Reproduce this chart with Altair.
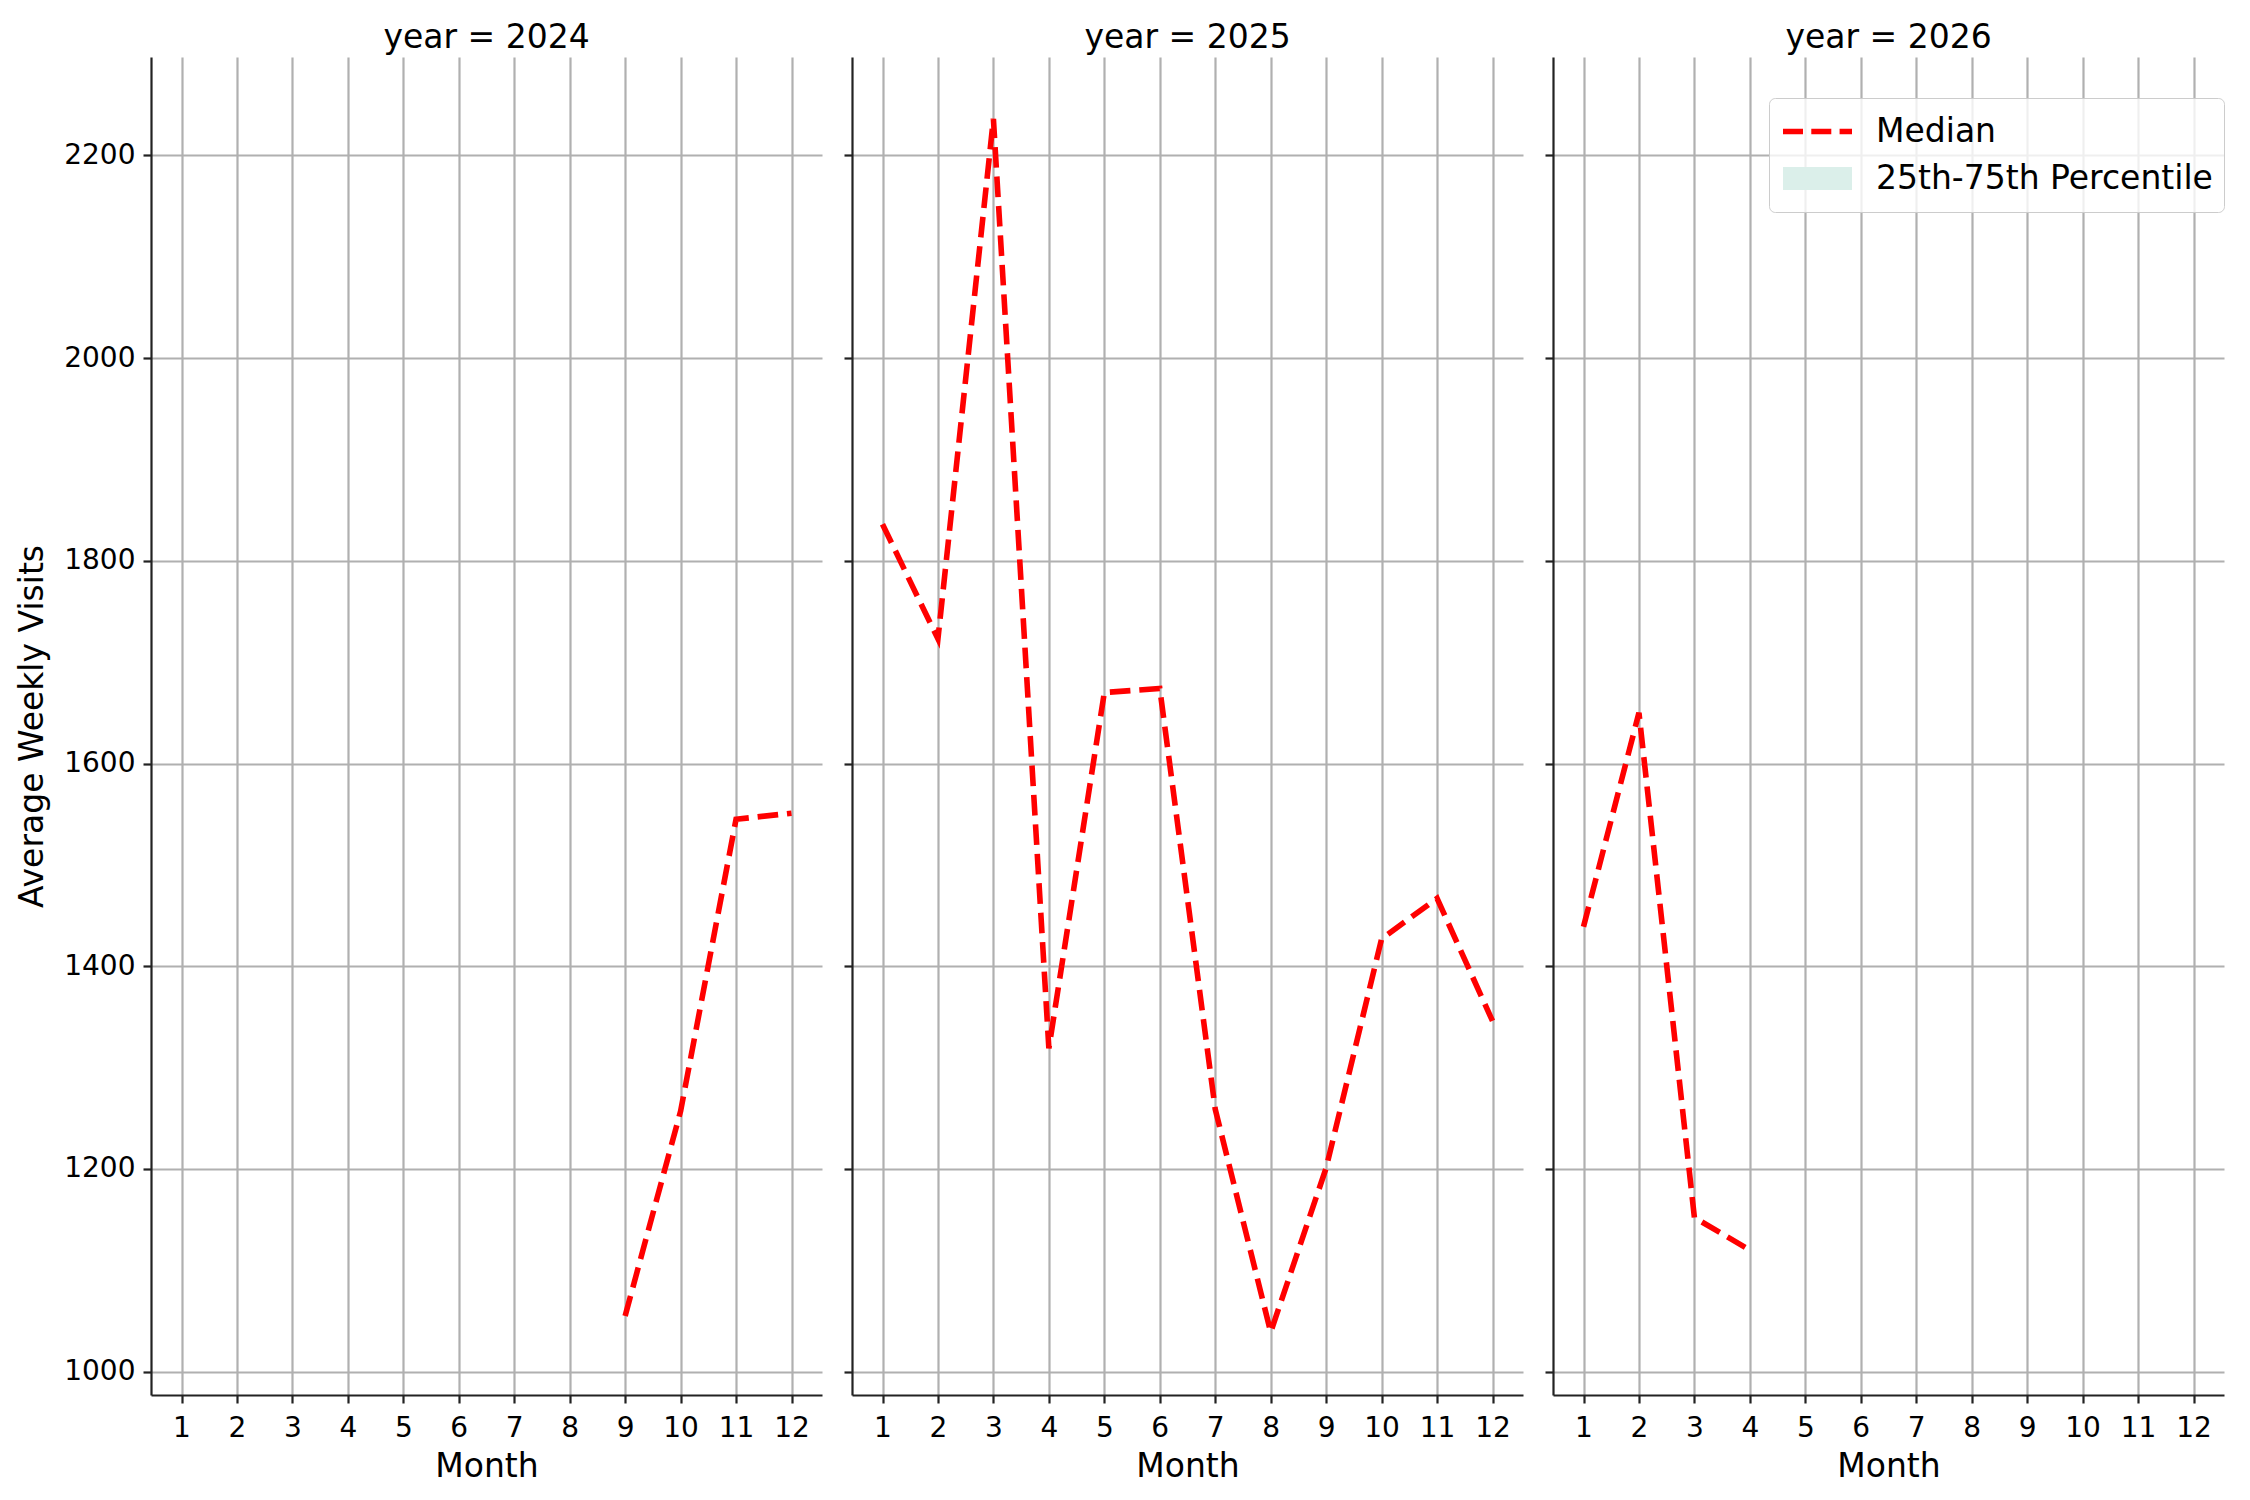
import altair as alt
import pandas as pd

# ---- data ----
years = [2024, 2025, 2026]
months_2024 = [9, 10, 11, 12]
median_2024 = [1055, 1257, 1545, 1551]
months_2025 = [1, 2, 3, 4, 5, 6, 7, 8, 9, 10, 11, 12]
median_2025 = [1836, 1723, 2236, 1319, 1670, 1674, 1259, 1039, 1201, 1427, 1467, 1346]
months_2026 = [1, 2, 3, 4]
median_2026 = [1439, 1650, 1152, 1120]

month_ticks = [1, 2, 3, 4, 5, 6, 7, 8, 9, 10, 11, 12]
y_ticks = [1000, 1200, 1400, 1600, 1800, 2000, 2200]
legend_labels = ["Median", "25th-75th Percentile"]

rows = []
for yr, ms, vs in zip(years, [months_2024, months_2025, months_2026],
                      [median_2024, median_2025, median_2026]):
    for m, v in zip(ms, vs):
        rows.append({"year": yr, "month": m, "value": v})
df = pd.DataFrame(rows)

legend_df = pd.DataFrame({"series": legend_labels,
                          "month": [float("nan")] * 2,
                          "value": [float("nan")] * 2})

FONT = "DejaVu Sans"
RED = "red"
TEAL = "#dbefea"
DASH_PATH = "M-1,0H-0.42M-0.18,0H0.4M0.64,0H1"
RECT_PATH = "M-1,-0.333H1V0.333H-1Z"

x_scale = alt.Scale(domain=[0.45, 12.55], nice=False, zero=False)
y_scale = alt.Scale(domain=[977, 2297], nice=False, zero=False)


def panel(year, first, with_legend):
    x_enc = alt.X("month:Q", scale=x_scale, title="Month",
                  axis=alt.Axis(values=month_ticks, format="d"))
    if first:
        y_enc = alt.Y("value:Q", scale=y_scale, title="Average Weekly Visits",
                      axis=alt.Axis(values=y_ticks, format="d"))
    else:
        y_enc = alt.Y("value:Q", scale=y_scale, title=None,
                      axis=alt.Axis(values=y_ticks, labels=False))
    line = (
        alt.Chart(df)
        .transform_filter(alt.datum.year == year)
        .mark_line(color=RED, strokeWidth=5.6, strokeDash=[20.6, 8.9])
        .encode(x=x_enc, y=y_enc)
    )
    layers = [line]
    if with_legend:
        leg = alt.Legend(
            title=None, orient="none", legendX=216, legendY=41,
            symbolSize=4761, symbolStrokeWidth=5.6, clipHeight=45,
            rowPadding=2, labelOffset=21, labelFont=FONT, labelFontSize=33,
            labelColor="black", labelLimit=600, padding=11,
            strokeColor="#cccccc", fillColor="rgba(255,255,255,0.8)",
            cornerRadius=6,
        )
        pts = (
            alt.Chart(legend_df)
            .mark_point(filled=True, opacity=1)
            .encode(
                x=alt.X("month:Q", scale=x_scale),
                y=alt.Y("value:Q", scale=y_scale),
                fill=alt.Fill("series:N", legend=leg,
                              scale=alt.Scale(domain=legend_labels, range=["transparent", TEAL])),
                stroke=alt.Stroke("series:N", legend=leg,
                                  scale=alt.Scale(domain=legend_labels, range=[RED, "transparent"])),
                shape=alt.Shape("series:N", legend=leg,
                                scale=alt.Scale(domain=legend_labels, range=[DASH_PATH, RECT_PATH])),
            )
        )
        layers.append(pts)
    ch = alt.layer(*layers) if len(layers) > 1 else layers[0]
    return ch.properties(
        width=671, height=1338,
        title=alt.TitleParams(f"year = {year}", fontSize=33, fontWeight="normal",
                              font=FONT, color="black", offset=2,
                              anchor="middle"),
    )


chart = (
    alt.hconcat(panel(2024, True, False), panel(2025, False, False),
                panel(2026, False, True), spacing=20)
    .resolve_scale(fill="independent", stroke="independent", shape="independent")
    .resolve_legend(fill="independent", stroke="independent", shape="independent")
    .properties(padding={"left": 8, "top": 14, "right": 10, "bottom": 10},
                background="white")
    .configure_view(stroke=None)
    .configure_axis(
        labelFont=FONT, labelFontSize=28, labelColor="black",
        titleFont=FONT, titleFontSize=33, titleFontWeight="normal", titleColor="black",
        domainColor="#222222", domainWidth=2.2,
        tickColor="#222222", tickWidth=2.2, tickSize=8,
        labelPadding=8, grid=True, gridColor="#b0b0b0", gridWidth=2.2,
    )
    .configure_axisX(titlePadding=8, labelPadding=11)
    .configure_axisY(titlePadding=14)
)

chart.save("out.html", embed_options={"renderer": "svg", "actions": False})
